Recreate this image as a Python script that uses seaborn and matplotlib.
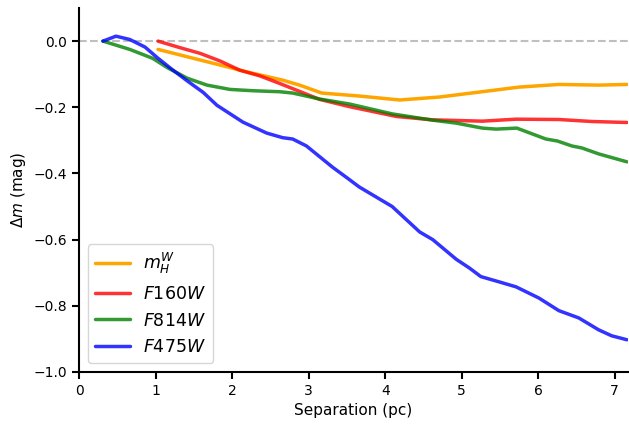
import numpy as np
import pandas as pd
import matplotlib
matplotlib.use("Agg")
import matplotlib.pyplot as plt
import seaborn as sns

# separation (pc) and magnitude offsets
sep_mhw = [1.03, 1.75, 2.19, 2.66, 2.88, 3.17, 3.66, 4.19, 4.71, 5.23, 5.75, 6.27, 6.79, 7.16]
dm_mhw = [-0.025, -0.067, -0.093, -0.118, -0.133, -0.157, -0.166, -0.178, -0.169, -0.154,
          -0.139, -0.131, -0.133, -0.131]

sep_f160 = [1.03, 1.32, 1.58, 1.84, 2.10, 2.36, 2.62, 2.88, 3.14, 3.53, 4.15, 4.62, 5.27,
            5.71, 6.27, 6.70, 7.16]
dm_f160 = [0.0, -0.02, -0.037, -0.06, -0.088, -0.105, -0.128, -0.152, -0.176, -0.198,
           -0.228, -0.238, -0.242, -0.236, -0.237, -0.243, -0.246]

sep_f814 = [0.31, 0.66, 0.96, 1.15, 1.41, 1.67, 1.97, 2.27, 2.62, 2.79, 3.14, 3.53, 4.09,
            4.62, 4.93, 5.27, 5.45, 5.72, 6.10, 6.25, 6.44, 6.57, 6.79, 7.16]
dm_f814 = [0.0, -0.025, -0.052, -0.08, -0.112, -0.133, -0.146, -0.150, -0.153, -0.157,
           -0.175, -0.19, -0.22, -0.239, -0.248, -0.263, -0.266, -0.263, -0.296, -0.302,
           -0.317, -0.323, -0.341, -0.365]

sep_f475 = [0.31, 0.48, 0.66, 0.86, 1.02, 1.21, 1.41, 1.62, 1.80, 2.14, 2.45, 2.66, 2.79,
            2.97, 3.31, 3.51, 3.66, 4.09, 4.45, 4.62, 4.93, 5.10, 5.25, 5.49, 5.71, 6.01,
            6.27, 6.53, 6.79, 6.96, 7.16]
dm_f475 = [0.0, 0.015, 0.005, -0.018, -0.05, -0.085, -0.12, -0.155, -0.194, -0.245, -0.278,
           -0.292, -0.296, -0.317, -0.381, -0.415, -0.441, -0.50, -0.577, -0.60, -0.66,
           -0.686, -0.712, -0.728, -0.743, -0.777, -0.815, -0.837, -0.873, -0.891, -0.903]

series = [
    (sep_mhw, dm_mhw, r"$m_H^W$", "orange", 1.0),
    (sep_f160, dm_f160, r"$F160W$", "red", 0.8),
    (sep_f814, dm_f814, r"$F814W$", "green", 0.8),
    (sep_f475, dm_f475, r"$F475W$", "blue", 0.8),
]

sns.set_style("ticks")
plt.rcParams.update({"text.color": "black", "axes.labelcolor": "black",
                     "xtick.color": "black", "ytick.color": "black"})
fig, ax = plt.subplots(figsize=(6.29, 4.24), dpi=100)
fig.subplots_adjust(left=0.126, right=0.998, bottom=0.123, top=0.981)

ax.axhline(0, color="gray", ls="--", alpha=0.5, lw=1.5)
for x, y, lab, col, a in series:
    df = pd.DataFrame({"sep": x, "dm": y})
    sns.lineplot(data=df, x="sep", y="dm", color=col, alpha=a, lw=2.5, label=lab, ax=ax)

ax.set_xlim(0, 7.17)
ax.set_ylim(-1.0, 0.1)
ax.set_yticks(np.arange(-1.0, 0.01, 0.2))
ax.set_xlabel("Separation (pc)", fontsize=11)
ax.set_ylabel(r"$\Delta m$ (mag)", fontsize=11)
ax.tick_params(labelsize=10, width=1.5, length=5, color="black")
for s in ["left", "bottom"]:
    ax.spines[s].set_linewidth(1.5)
    ax.spines[s].set_color("black")
sns.despine(ax=ax)
ax.legend(loc="lower left", fontsize=12.5)

fig.savefig("out.png", dpi=100)
